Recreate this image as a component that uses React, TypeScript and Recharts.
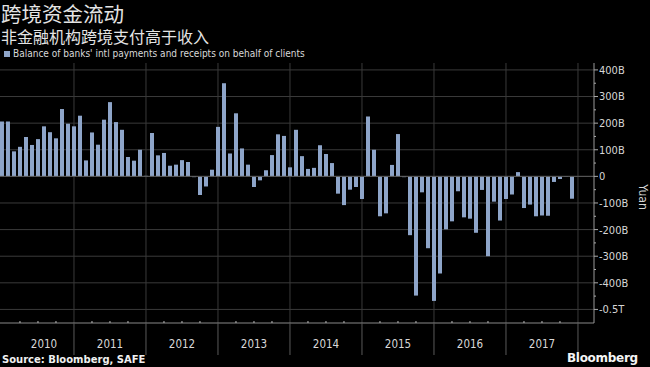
import React from 'react';
import {
  BarChart,
  Bar,
  XAxis,
  YAxis,
  CartesianGrid,
  Legend,
  ReferenceLine
} from 'recharts';

// monthly balance, billions of yuan, starting 2010
const balance = [
  206, 206, 94, 111, 148, 118, 140, 188, 166, 143, 253, 198,
  188, 228, 60, 165, 119, 213, 279, 204, 175, 73, 59, 100,
  2, 163, 79, 88, 40, 44, 61, 54, -3, -70, -38, 25,
  186, 350, 86, 237, 105, 44, -40, -15, 23, 80, 158, 152,
  34, 175, 76, 28, 32, 117, 84, 50, -65, -108, -50, -40,
  -85, 225, 100, -150, -139, 43, 159, -3, -221, -448, -60, -270,
  -468, -365, -199, -169, -56, -154, -159, -212, -51, -300, -95, -166,
  -85, -68, 16, -119, -106, -150, -147, -148, -21, -10, -2, -84
];

const years = ['2010', '2011', '2012', '2013', '2014', '2015', '2016', '2017'];
const yearLabelAt = [7, 18, 30, 42, 54, 66, 78, 90];
const yearBounds = [12, 24, 36, 48, 60, 72, 84, 96];
const quarterTicks = [3, 6, 9, 12, 15, 18, 21, 24, 27, 30, 33, 36, 39, 42, 45, 48,
  51, 54, 57, 60, 63, 66, 69, 72, 75, 78, 81, 84, 87, 90, 93, 96];

const yMajor = [400, 300, 200, 100, 0, -100, -200, -300, -400, -500];
const yAll = [400, 350, 300, 250, 200, 150, 100, 50, 0, -50, -100, -150, -200,
  -250, -300, -350, -400, -450, -500];

const seriesName = "Balance of banks' intl payments and receipts on behalf of clients";

const data = balance.map((v, i) => ({ i, v }));

const condensed = "'DejaVu Sans Condensed', 'Liberation Sans Narrow', sans-serif";

const fmtValue = (v: number) => {
  if (v === 0) return '0';
  if (v === -500) return '-0.5T';
  return `${v}B`;
};

const ValueTick = (props: any) => {
  const { x, y, payload } = props;
  const v = payload.value;
  const major = v % 100 === 0;
  return (
    <g>
      <line x1={x} x2={x + (major ? 4 : 2)} y1={y} y2={y} stroke="#aaa" />
      {major && (
        <text x={x + 5} y={y} dy="0.36em" fill="#d6d6d6" fontSize={11} fontFamily={condensed}>
          {fmtValue(v)}
        </text>
      )}
    </g>
  );
};

const SepTick = (props: any) => {
  const { x, y, payload } = props;
  if (payload.value % 12 === 0) {
    return <line x1={x} x2={x} y1={y} y2={y + 32} stroke="#5a5a5a" />;
  }
  return <line x1={x} x2={x} y1={y - 2} y2={y} stroke="#bbb" />;
};

const YuanLabel = (props: any) => {
  const { viewBox } = props;
  const x = viewBox.x + viewBox.width - 8;
  const y = viewBox.y + viewBox.height / 2 + 4;
  return (
    <text
      x={x}
      y={y}
      transform={`rotate(90, ${x}, ${y})`}
      textAnchor="middle"
      dominantBaseline="middle"
      fill="#d6d6d6"
      fontSize={12}
      fontFamily={condensed}
    >
      Yuan
    </text>
  );
};

const LegendContent = (props: any) => (
  <div style={{ display: 'flex', alignItems: 'center' }}>
    {(props.payload || []).map((p: any) => (
      <div key={p.value} style={{ display: 'flex', alignItems: 'center' }}>
        <span style={{ width: 6, height: 6, background: p.color, display: 'inline-block', marginRight: 3 }} />
        <span style={{ color: '#d8d8d8', fontSize: 10, fontFamily: condensed, whiteSpace: 'nowrap' }}>{p.value}</span>
      </div>
    ))}
  </div>
);

export default function App() {
  return (
    <div style={{ position: 'fixed', left: 0, top: 0, width: 650, height: 367, background: '#000', overflow: 'hidden' }}>
      <div style={{ position: 'absolute', left: 1, top: 0, color: '#e4e4e4', fontFamily: "'Noto Sans CJK SC', sans-serif", fontSize: 20.5, lineHeight: '27px' }}>
        跨境资金流动
      </div>
      <div style={{ position: 'absolute', left: 1, top: 27, color: '#e4e4e4', fontFamily: "'Noto Sans CJK SC', sans-serif", fontSize: 16, lineHeight: '19px' }}>
        非金融机构跨境支付高于收入
      </div>
      <BarChart width={650} height={367} data={data} margin={{ top: 63, right: 0, bottom: 0, left: 0 }}>
        <CartesianGrid
          xAxisId="sep"
          yAxisId="val"
          stroke="#3a3a3a"
          verticalValues={yearBounds}
          horizontalValues={yMajor}
        />
        <XAxis
          xAxisId="sep"
          dataKey="i"
          type="number"
          domain={[-0.33, 98.67]}
          ticks={quarterTicks}
          tick={<SepTick />}
          tickLine={false}
          tickSize={0}
          tickMargin={0}
          height={1}
          axisLine={{ stroke: '#888' }}
          interval={0}
        />
        <XAxis
          xAxisId="yr"
          dataKey="i"
          type="number"
          domain={[-0.33, 98.67]}
          ticks={yearLabelAt}
          tickFormatter={(v: number) => years[yearLabelAt.indexOf(v)]}
          tick={{ fill: '#d8d8d8', fontSize: 11.5, fontFamily: condensed }}
          tickLine={false}
          axisLine={false}
          tickSize={0}
          tickMargin={16}
          height={43}
          interval={0}
        />
        <YAxis
          yAxisId="val"
          orientation="right"
          domain={[-551, 426]}
          ticks={yAll}
          tick={<ValueTick />}
          tickLine={false}
          tickSize={0}
          tickMargin={0}
          width={56}
          interval={0}
          axisLine={{ stroke: '#999' }}
          label={<YuanLabel />}
        />
        <ReferenceLine xAxisId="sep" yAxisId="val" y={0} stroke="#5a5a5a" />
        <Legend
          verticalAlign="middle"
          align="center"
          layout="horizontal"
          wrapperStyle={{ top: 48, left: 4, width: 400 }}
          content={<LegendContent />}
        />
        <Bar
          xAxisId="sep"
          yAxisId="val"
          dataKey="v"
          name={seriesName}
          fill="#8ea5c9"
          barSize={4}
          isAnimationActive={false}
        />
      </BarChart>
      <div style={{ position: 'absolute', left: 2, top: 353, color: '#f0f0f0', fontFamily: "'DejaVu Sans', sans-serif", fontWeight: 'bold', fontSize: 10, lineHeight: '13px' }}>
        Source: Bloomberg, SAFE
      </div>
      <div style={{ position: 'absolute', left: 567, top: 351, color: '#f4f4f4', fontFamily: "'DejaVu Sans', sans-serif", fontWeight: 'bold', fontSize: 12, lineHeight: '15px', letterSpacing: -0.3 }}>
        Bloomberg
      </div>
    </div>
  );
}
